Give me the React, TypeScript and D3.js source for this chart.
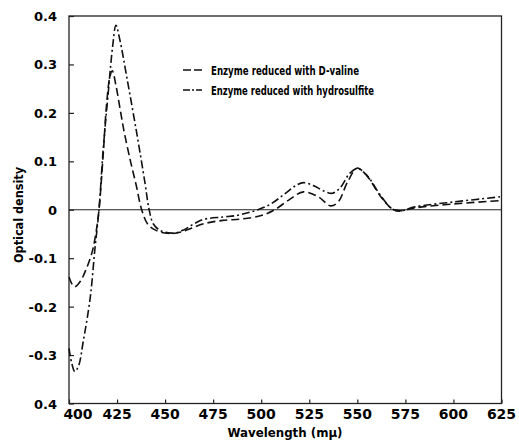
import React, {Component} from "react";
import * as d3 from "d3";

// wavelength (mμ) and optical density
const valineWl = [400, 401.5, 403, 406, 409, 412, 414, 415.6, 417.8, 419.6, 421.3, 422.5, 424.5, 426.5, 428.5, 432, 435, 437.8, 441, 445, 450, 456, 462, 470, 480, 490, 500, 507, 515, 522, 530, 536, 540, 545, 550, 555, 562, 568, 572, 580, 600, 625];
const valineOd = [-0.139, -0.153, -0.159, -0.147, -0.122, -0.088, -0.048, 0, 0.115, 0.22, 0.275, 0.287, 0.255, 0.21, 0.165, 0.1, 0.05, 0, -0.03, -0.042, -0.048, -0.048, -0.041, -0.029, -0.022, -0.019, -0.012, 0, 0.022, 0.037, 0.026, 0.008, 0.016, 0.058, 0.086, 0.07, 0.028, 0.002, -0.002, 0.004, 0.012, 0.019];

const hydroWl = [400, 401.5, 403, 405, 407.4, 411, 413.5, 415.6, 417.8, 420.4, 422.7, 424.4, 426.5, 430, 435.2, 439.5, 441.7, 444, 448, 455, 460, 465, 470, 480, 487, 493, 498.3, 505, 512, 518, 522, 527, 533, 537, 541, 546, 550, 555, 562, 568, 572, 580, 600, 625];
const hydroOd = [-0.286, -0.318, -0.334, -0.322, -0.272, -0.183, -0.08, 0, 0.125, 0.241, 0.337, 0.381, 0.35, 0.275, 0.159, 0.056, 0, -0.03, -0.044, -0.048, -0.041, -0.029, -0.02, -0.015, -0.012, -0.006, 0, 0.012, 0.032, 0.05, 0.056, 0.05, 0.038, 0.034, 0.045, 0.075, 0.085, 0.071, 0.03, 0.002, -0.003, 0.006, 0.016, 0.027];

const xTicks = [400, 425, 450, 475, 500, 525, 550, 575, 600, 625];
const yTicks = [0.4, 0.3, 0.2, 0.1, 0, -0.1, -0.2, -0.3, -0.4];
const yTickLabels = ["0.4", "0.3", "0.2", "0.1", "0", "-0.1", "-0.2", "-0.3", "0.4"];

const seriesNames = ["Enzyme reduced with D-valine", "Enzyme reduced with hydrosulfite"];
const seriesDash = ["8,4", "8,3,2,3"];

class App extends Component
{
    componentDidMount()
    {
        document.body.style.margin = "0";
        this.drawChart();
    }

    drawChart()
    {
        const svg = d3.select(".spectrum");
        svg.selectAll("*").remove();

        const font = "'DejaVu Sans', sans-serif";
        const left = 69, right = 501.5, top = 16, bottom = 403.5;

        const xScale = d3.scaleLinear().domain([400, 625]).range([left, right]);
        const yScale = d3.scaleLinear().domain([-0.4, 0.4]).range([bottom, top]);

        // frame
        svg.append("rect")
            .attr("x", left)
            .attr("y", top)
            .attr("width", right - left)
            .attr("height", bottom - top)
            .attr("fill", "none")
            .attr("stroke", "#222")
            .attr("stroke-width", 1.3);

        // zero line
        svg.append("line")
            .attr("x1", left)
            .attr("x2", right)
            .attr("y1", yScale(0))
            .attr("y2", yScale(0))
            .attr("stroke", "#222")
            .attr("stroke-width", 1);

        // ticks pointing inward
        const xAxis = d3.axisBottom(xScale).tickValues(xTicks).tickSize(-4).tickFormat(() => "");
        const yAxis = d3.axisLeft(yScale).tickValues(yTicks).tickSize(-5).tickFormat(() => "");

        const gx = svg.append("g")
            .attr("transform", `translate(0, ${bottom})`)
            .call(xAxis);
        const gy = svg.append("g")
            .attr("transform", `translate(${left}, 0)`)
            .call(yAxis);
        [gx, gy].forEach(g => {
            g.select(".domain").remove();
            g.selectAll("line").attr("stroke", "#222").attr("stroke-width", 1.2);
        });

        // tick labels
        svg.selectAll(".xlab")
            .data(xTicks)
            .enter()
            .append("text")
            .attr("class", "xlab")
            .attr("x", (d, i) => i === 0 ? xScale(d) + 9 : xScale(d))
            .attr("y", 419)
            .attr("text-anchor", "middle")
            .attr("font-family", font)
            .attr("font-weight", "bold")
            .attr("font-size", 14)
            .text(d => d);

        svg.selectAll(".ylab")
            .data(yTicks)
            .enter()
            .append("text")
            .attr("class", "ylab")
            .attr("x", 57)
            .attr("y", d => yScale(d) + 5)
            .attr("text-anchor", "end")
            .attr("font-family", font)
            .attr("font-weight", "bold")
            .attr("font-size", 13)
            .text((d, i) => yTickLabels[i]);

        // axis titles
        svg.append("text")
            .attr("transform", `translate(23, 215) rotate(-90)`)
            .attr("text-anchor", "middle")
            .attr("font-family", font)
            .attr("font-weight", "bold")
            .attr("font-size", 12)
            .attr("textLength", 96)
            .attr("lengthAdjust", "spacingAndGlyphs")
            .text("Optical density");

        svg.append("text")
            .attr("x", 285)
            .attr("y", 437)
            .attr("text-anchor", "middle")
            .attr("font-family", font)
            .attr("font-weight", "bold")
            .attr("font-size", 13)
            .attr("textLength", 115)
            .attr("lengthAdjust", "spacingAndGlyphs")
            .text("Wavelength (mμ)");

        // curves
        const line = d3.line()
            .x(d => xScale(d[0]))
            .y(d => yScale(d[1]))
            .curve(d3.curveCatmullRom.alpha(0.5));

        const series = [
            valineWl.map((w, i) => [w, valineOd[i]]),
            hydroWl.map((w, i) => [w, hydroOd[i]])
        ];

        svg.selectAll(".curve")
            .data(series)
            .enter()
            .append("path")
            .attr("class", "curve")
            .attr("d", d => line(d))
            .attr("fill", "none")
            .attr("stroke", "#111")
            .attr("stroke-width", 1.6)
            .attr("stroke-dasharray", (d, i) => seriesDash[i]);

        // legend
        const legend = svg.selectAll(".legend")
            .data(seriesNames)
            .enter()
            .append("g")
            .attr("class", "legend")
            .attr("transform", (d, i) => `translate(183, ${70 + i * 20})`);

        legend.append("line")
            .attr("x1", 0)
            .attr("x2", 19)
            .attr("y1", 0)
            .attr("y2", 0)
            .attr("stroke", "#111")
            .attr("stroke-width", 1.6)
            .attr("stroke-dasharray", (d, i) => i === 0 ? "8,3" : "7,2,2,2");

        legend.append("text")
            .attr("x", 28)
            .attr("y", 4.5)
            .attr("font-family", font)
            .attr("font-weight", "bold")
            .attr("font-size", 12.5)
            .attr("textLength", (d, i) => i === 0 ? 148 : 163)
            .attr("lengthAdjust", "spacingAndGlyphs")
            .text(d => d);
    }

    render()
    {
        return (
            <svg className="spectrum" width={519} height={442} style={{display: "block", background: "#fff"}}></svg>
        );
    }
}

export default App;
